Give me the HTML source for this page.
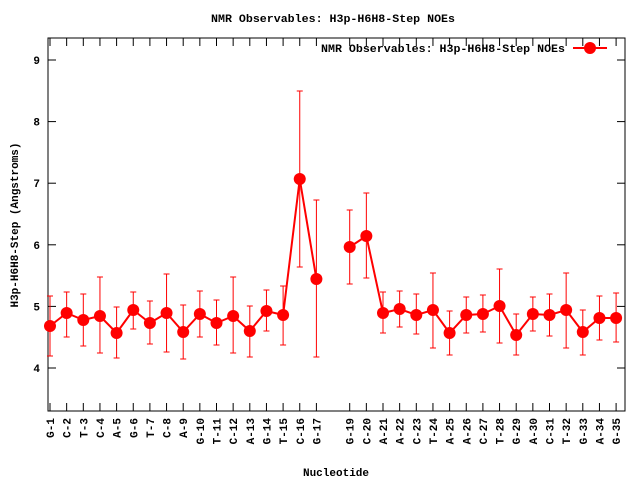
<!DOCTYPE html>
<html><head><style>body{margin:0;background:#fff}svg{display:block}text{font-family:"Liberation Mono",monospace;font-weight:bold;font-size:11px;fill:#000}.big{font-size:11.3px}</style></head>
<body>
<svg width="640" height="480" xmlns="http://www.w3.org/2000/svg">
<rect x="48" y="38" width="577" height="373" fill="none" stroke="#000" stroke-width="1"/>
<text class="big" x="211" y="22" textLength="244" lengthAdjust="spacingAndGlyphs">NMR Observables: H3p-H6H8-Step NOEs</text>
<text class="big" x="321" y="52" textLength="244" lengthAdjust="spacingAndGlyphs">NMR Observables: H3p-H6H8-Step NOEs</text>
<line x1="573" y1="48" x2="607" y2="48" stroke="#f00" stroke-width="2"/>
<circle cx="590" cy="48" r="6" fill="#f00"/>
<text transform="translate(18,225) rotate(-90)" text-anchor="middle">H3p-H6H8-Step (Angstroms)</text>
<text x="336" y="476" text-anchor="middle">Nucleotide</text>
<g id="yt"></g><g id="xt"></g><g id="data"></g>
<script>
var ns="http://www.w3.org/2000/svg";
function el(p,t,a,txt){var e=document.createElementNS(ns,t);for(var k in a)e.setAttribute(k,a[k]);if(txt)e.textContent=txt;p.appendChild(e);return e;}
var yt=document.getElementById('yt');
for(var v=4;v<=9;v++){var y=368-(v-4)*61.6;
el(yt,'line',{x1:48,y1:y,x2:56,y2:y,stroke:'#000'});el(yt,'line',{x1:617,y1:y,x2:625,y2:y,stroke:'#000'});
el(yt,'text',{x:40,y:y+4,'text-anchor':'end'},String(v));}
var names=["G-1","C-2","T-3","C-4","A-5","G-6","T-7","C-8","A-9","G-10","T-11","C-12","A-13","G-14","T-15","C-16","G-17",null,"G-19","C-20","A-21","A-22","C-23","T-24","A-25","A-26","C-27","T-28","G-29","A-30","C-31","T-32","G-33","A-34","G-35"];
var d=[[326,296,356],[313,292,337],[320,294,346],[316,277,353],[333,307,358],[310,292,329],[323,301,344],[313,274,352],[332,305,359],[314,291,337],[323,300,345],[316,277,353],[331,306,357],[311,290,331],[315,286,345],[179,91,267],[279,200,357],null,[247,210,284],[236,193,278],[313,292,333],[309,291,327],[315,294,334],[310,273,348],[333,311,355],[315,297,333],[314,295,332],[306,269,343],[335,314,355],[314,297,331],[315,294,336],[310,273,348],[332,310,355],[318,296,340],[318,293,342]];
var xt=document.getElementById('xt'),g=document.getElementById('data');
function X(i){return 50+i*16.65;}
var segs=[[]];
for(var i=0;i<35;i++){var x=X(i);
if(names[i]){el(xt,'line',{x1:x,y1:411,x2:x,y2:403,stroke:'#000'});el(xt,'line',{x1:x,y1:38,x2:x,y2:46,stroke:'#000'});
el(xt,'text',{transform:'translate('+(x+4)+',418) rotate(-90)','text-anchor':'end'},names[i]);}
if(!d[i]){segs.push([]);continue;}
segs[segs.length-1].push(x+','+d[i][0]);
el(g,'line',{x1:x,y1:d[i][1],x2:x,y2:d[i][2],stroke:'#f00'});
el(g,'line',{x1:x-3,y1:d[i][1],x2:x+3,y2:d[i][1],stroke:'#f00'});
el(g,'line',{x1:x-3,y1:d[i][2],x2:x+3,y2:d[i][2],stroke:'#f00'});}
segs.forEach(function(s){el(g,'polyline',{points:s.join(' '),fill:'none',stroke:'#f00','stroke-width':2});});
for(var i=0;i<35;i++){if(d[i])el(g,'circle',{cx:X(i),cy:d[i][0],r:6,fill:'#f00'});}
</script>
</svg>
</body></html>
